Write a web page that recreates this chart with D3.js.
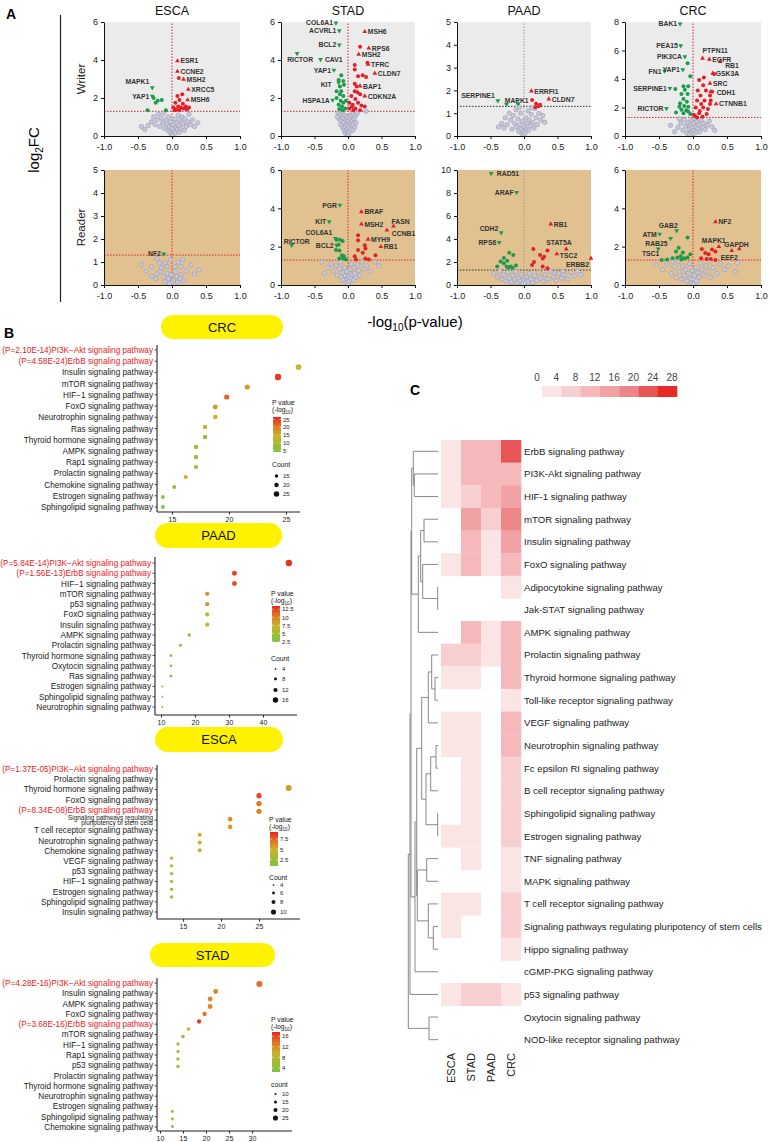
<!DOCTYPE html>
<html><head><meta charset="utf-8">
<script src="https://cdn.jsdelivr.net/npm/d3@7"></script>
<style>body{margin:0;background:#fff}svg{display:block;font-family:"Liberation Sans",Arial,Helvetica,sans-serif}</style>
</head><body><svg id="c" width="770" height="1142"></svg>
<script>
// ================= DATA =================
const cancers = ["ESCA","STAD","PAAD","CRC"];
const rowsA = ["Writer","Reader"];
const writerYMax = [6,6,5,8], writerYStep = [2,2,1,2];
const readerYMax = [5,6,10,6], readerYStep = [1,2,2,2];
const xTicksA = [-1,-0.5,0,0.5,1];

const escaWgray = [[-0.35,0.55],[-0.30,0.75],[-0.27,1.0],[-0.25,0.6],[-0.22,0.85],[-0.20,1.15],[-0.18,0.5],[-0.16,0.95],[-0.14,0.7],[-0.12,1.2],[-0.11,0.4],[-0.09,0.85],[-0.08,0.6],[-0.06,0.3],[-0.05,1.0],[-0.04,0.5],[-0.03,0.2],[-0.02,0.75],[-0.01,0.1],[0.0,0.4],[0.01,0.05],[0.02,0.6],[0.03,0.25],[0.04,0.9],[0.05,0.15],[0.06,0.45],[0.07,0.7],[0.08,0.35],[0.09,1.1],[0.10,0.55],[0.11,0.2],[0.12,0.85],[0.13,0.4],[0.15,1.0],[0.16,0.65],[0.18,0.3],[0.19,0.9],[0.21,0.5],[0.23,0.75],[0.25,1.15],[0.27,0.6],[0.30,0.85],[0.33,0.5],[-0.40,0.35],[-0.45,0.5],[0.38,0.7]];
const escaWdown = [[-0.27,2.0],[-0.21,1.85],[-0.15,1.9],[-0.36,1.35],[-0.09,1.35],[-0.24,1.75]];
const escaWup = [[0.10,3.05],[0.08,2.1],[0.15,2.2],[0.11,1.9],[0.05,1.75],[0.16,1.7],[0.09,1.55],[0.02,1.5],[0.13,1.5],[0.20,1.55],[0.25,1.5],[0.06,1.4],[0.17,1.45],[0.11,1.35],[0.04,1.35],[0.22,1.4]];
const escaWlab = [["ESR1",0.08,3.95],["CCNE2",0.08,3.4],["MSH2",0.17,2.98],["XRCC5",0.24,2.45],["MSH6",0.23,1.9],["MAPK1",-0.29,2.54],["YAP1",-0.29,2.1]];

const stadWgray = [[-0.15,1.2],[-0.13,0.9],[-0.12,1.1],[-0.11,0.6],[-0.10,0.8],[-0.09,1.25],[-0.08,0.45],[-0.07,0.95],[-0.06,0.3],[-0.06,0.7],[-0.05,1.1],[-0.04,0.5],[-0.04,0.15],[-0.03,0.85],[-0.02,0.35],[-0.02,1.0],[-0.01,0.1],[-0.01,0.6],[0.0,0.25],[0.0,0.8],[0.01,0.05],[0.01,0.45],[0.02,0.95],[0.02,0.2],[0.03,0.65],[0.04,0.35],[0.04,1.1],[0.05,0.55],[0.06,0.8],[0.07,0.3],[0.07,1.2],[0.08,0.6],[0.09,0.9],[0.10,0.45],[0.11,1.05],[0.12,0.7],[0.14,1.2],[-0.16,1.0],[0.27,1.3]];
const stadWdown = [[-0.10,3.2],[-0.14,2.95],[-0.07,2.9],[-0.12,2.6],[-0.17,2.35],[-0.10,2.35],[-0.12,2.2],[-0.07,2.1],[-0.17,2.0],[-0.11,1.85],[-0.07,1.75],[-0.14,1.65],[-0.09,1.55],[-0.04,1.45],[-0.13,1.42],[-0.08,1.35],[-0.06,2.7],[-0.03,1.85]];
const stadWup = [[0.18,4.7],[0.10,3.74],[0.10,3.5],[0.29,3.85],[0.15,3.15],[0.22,3.2],[0.27,3.1],[0.10,2.75],[0.13,2.6],[0.10,2.35],[0.18,2.2],[0.05,2.1],[0.11,1.95],[0.02,1.75],[0.15,1.75],[0.07,1.65],[0.20,1.6],[0.02,1.45],[0.11,1.45],[0.25,1.55],[0.08,1.35],[0.18,1.35],[0.14,2.3],[0.06,1.55]];
const stadWlab = [["COL6A1",-0.18,5.95],["ACVRL1",-0.13,5.54],["BCL2",-0.13,4.79],["RICTOR",-0.76,4.35],["CAV1",-0.41,4.03],["YAP1",-0.21,3.47],["KIT",-0.14,2.8],["HSPA1A",-0.23,1.89],["MSH6",0.25,5.49],["RPS6",0.31,4.62],["MSH2",0.16,4.3],["TFRC",0.30,3.77],["CLDN7",0.40,3.3],["BAP1",0.18,2.63],["CDKN2A",0.25,2.1]];

const paadWgray = [[-0.38,0.4],[-0.33,0.55],[-0.30,0.35],[-0.28,0.8],[-0.25,0.5],[-0.22,1.0],[-0.20,0.7],[-0.18,0.3],[-0.16,0.9],[-0.14,0.55],[-0.12,1.15],[-0.11,0.4],[-0.09,0.75],[-0.08,0.2],[-0.06,0.5],[-0.05,1.0],[-0.04,0.3],[-0.03,0.1],[-0.02,0.65],[-0.01,0.2],[0.0,0.05],[0.01,0.4],[0.02,0.15],[0.03,0.8],[0.04,0.3],[0.05,0.55],[0.06,1.1],[0.07,0.25],[0.08,0.7],[0.10,0.45],[0.11,0.95],[0.13,0.6],[0.15,0.35],[0.16,1.2],[0.18,0.8],[0.20,0.5],[0.22,1.0],[0.25,0.7],[0.28,0.9],[0.31,0.6],[0.12,1.25],[-0.07,1.25]];
const paadWdown = [[-0.09,1.43]];
const paadWup = [[0.12,1.58],[0.18,1.41],[0.22,1.3],[0.17,1.26],[0.24,1.37]];
const paadWlab = [["SERPINE1",-0.39,1.55],["MAPK1",-0.26,1.39],["ERRFI1",0.11,1.97],["CLDN7",0.37,1.62]];

const crcWgray = [[-0.27,0.3],[-0.22,0.6],[-0.18,0.9],[-0.15,0.4],[-0.13,1.15],[-0.11,0.7],[-0.09,0.2],[-0.08,0.95],[-0.06,0.5],[-0.05,0.1],[-0.04,0.75],[-0.03,1.1],[-0.02,0.35],[-0.01,0.6],[0.0,0.15],[0.01,0.9],[0.02,0.4],[0.03,1.2],[0.04,0.65],[0.05,0.25],[0.06,1.0],[0.07,0.5],[0.09,0.8],[0.10,0.3],[0.12,1.1],[0.14,0.6],[0.16,0.9],[0.18,0.45],[0.21,0.75],[0.24,1.05],[0.28,0.65],[0.32,0.4],[-0.33,0.75],[-0.20,1.2]];
const crcWdown = [[-0.08,5.1],[-0.04,4.2],[-0.14,3.5],[-0.07,3.5],[-0.26,3.3],[-0.12,3.25],[-0.17,2.95],[-0.08,2.95],[-0.14,2.6],[-0.09,2.4],[-0.19,2.3],[-0.13,2.1],[-0.07,2.05],[-0.17,1.85],[-0.10,1.8],[-0.25,1.65],[-0.14,1.6],[-0.07,1.72],[-0.04,1.55],[-0.20,2.05]];
const crcWup = [[0.09,3.93],[0.15,3.56],[0.07,3.2],[0.19,3.2],[0.11,2.85],[0.25,2.85],[0.06,2.5],[0.17,2.5],[0.12,2.25],[0.25,2.25],[0.04,2.0],[0.15,2.0],[0.22,1.9],[0.09,1.6],[0.01,1.5],[0.14,1.35],[0.06,1.3],[0.20,1.55],[0.31,4.35],[0.26,2.5],[0.16,4.1],[0.28,3.1],[0.10,1.75],[0.03,1.4]];
const crcWlab = [["BAK1",-0.19,7.86],["PEA15",-0.18,6.34],["PIK3CA",-0.12,5.57],["YAP1",-0.15,4.65],["FN1",-0.42,4.56],["SERPINE1",-0.34,3.35],["RICTOR",-0.39,1.94],["PTPN11",0.14,5.45],["EGFR",0.24,5.38],["RB1",0.40,5.22],["GSK3A",0.29,4.4],["SRC",0.25,3.7],["CDH1",0.26,3.11],["CTNNB1",0.34,2.25]];

const escaRgray = [[-0.45,0.9],[-0.3,0.8],[-0.22,1.15],[-0.18,0.95],[-0.1,0.97],[-0.07,0.8],[-0.02,1.1],[0.09,1.0],[0.13,0.8],[0.28,0.87],[0.40,0.67],[0.21,0.6],[-0.3,0.38],[-0.22,0.48],[-0.12,0.35],[-0.05,0.28],[0.02,0.2],[0.07,0.38],[0.13,0.45],[-0.17,0.6],[-0.07,0.5],[-0.01,0.45],[0.05,0.58],[0.12,0.28],[0.0,0.1],[-0.1,0.15],[-0.24,0.27],[0.18,0.2],[-0.38,0.6],[0.33,0.48],[-0.15,0.75],[0.04,0.8],[0.16,1.1],[-0.04,0.05],[0.08,0.12]];
const escaRdown = [];
const escaRup = [];
const escaRlab = [["NF2",-0.12,1.35]];

const stadRgray = [[-0.39,1.2],[-0.30,0.9],[-0.25,1.1],[-0.22,0.7],[-0.18,1.0],[-0.16,0.5],[-0.13,0.85],[-0.11,1.2],[-0.10,0.4],[-0.08,0.65],[-0.07,0.25],[-0.05,0.9],[-0.04,0.5],[-0.03,0.15],[-0.02,0.7],[-0.01,0.3],[0.0,0.05],[0.01,0.45],[0.02,0.2],[0.03,0.8],[0.04,0.35],[0.05,1.1],[0.06,0.55],[0.08,0.25],[0.09,0.9],[0.10,0.6],[0.12,0.4],[0.14,1.05],[0.16,0.75],[0.18,0.5],[0.21,1.2],[0.24,0.85],[0.28,1.0],[0.33,0.7],[0.40,1.2],[-0.35,0.6],[0.46,1.0]];
const stadRdown = [[-0.12,2.36],[-0.08,2.3],[-0.14,2.1],[-0.18,1.83],[-0.13,1.8],[-0.09,1.55],[-0.06,1.5],[-0.13,1.38],[-0.07,1.38],[-0.03,1.33],[-0.17,2.36]];
const stadRup = [[0.15,2.6],[0.15,2.34],[0.25,2.08],[0.26,1.9],[0.15,1.82],[0.22,1.68],[0.10,1.5],[0.26,1.38],[0.31,1.33],[0.41,1.55],[0.12,1.33]];
const stadRlab = [["PGR",-0.12,4.17],["KIT",-0.28,3.3],["COL6A1",-0.19,2.43],["RICTOR",-0.84,2.08],["BCL2",-0.17,2.08],["BRAF",0.20,3.82],["MSH2",0.20,3.18],["FASN",0.68,3.07],["CCNB1",0.58,2.86],["MYH9",0.30,2.38],["RB1",0.49,2.0]];

const paadRgray = [[-0.45,1.0],[-0.40,0.7],[-0.36,1.2],[-0.33,0.5],[-0.30,0.9],[-0.27,0.35],[-0.24,1.1],[-0.22,0.6],[-0.19,0.25],[-0.17,0.85],[-0.14,0.45],[-0.12,1.15],[-0.10,0.2],[-0.08,0.6],[-0.06,0.35],[-0.04,0.9],[-0.02,0.1],[0.0,0.4],[0.02,0.2],[0.04,0.7],[0.06,0.3],[0.08,1.0],[0.10,0.5],[0.13,0.2],[0.16,0.8],[0.19,0.4],[0.22,1.1],[0.25,0.6],[0.29,0.3],[0.32,0.9],[0.36,0.5],[0.40,1.2],[0.44,0.7],[0.48,0.4],[0.52,1.0],[0.56,0.6],[0.60,0.9],[0.65,0.5],[0.70,1.1],[0.75,0.8],[0.80,1.2],[0.85,0.9],[0.45,1.05],[0.58,1.2]];
const paadRdown = [[-0.22,2.81],[-0.16,2.6],[-0.30,2.35],[-0.25,2.1],[-0.35,2.05],[-0.40,1.6],[-0.30,1.9],[-0.26,1.6],[-0.20,1.6],[-0.17,1.5],[-0.12,1.7],[-0.23,1.5]];
const paadRup = [[0.14,3.13],[0.35,3.0],[0.24,2.6],[0.30,2.45],[0.28,2.3],[0.15,2.0],[0.12,1.75],[0.28,1.6],[0.35,1.45]];
const paadRlab = [["RAD51",-0.49,9.7],["ARAF",-0.11,8.06],["CDH2",-0.34,4.55],["RPS6",-0.37,3.71],["RB1",0.40,5.3],["STAT5A",0.63,3.13],["TSC2",0.49,2.7],["ERBB2",1.0,2.32]];

const crcRgray = [[-0.54,1.05],[-0.45,0.8],[-0.38,1.1],[-0.32,0.6],[-0.28,0.95],[-0.25,0.4],[-0.22,1.2],[-0.20,0.7],[-0.17,0.3],[-0.15,1.0],[-0.13,0.5],[-0.11,0.8],[-0.09,0.2],[-0.07,0.6],[-0.05,1.1],[-0.04,0.35],[-0.02,0.1],[-0.01,0.75],[0.0,0.3],[0.01,0.05],[0.02,0.5],[0.04,0.9],[0.05,0.2],[0.07,0.65],[0.09,0.4],[0.11,1.15],[0.13,0.8],[0.16,0.5],[0.19,1.0],[0.22,0.7],[0.26,0.4],[0.30,0.9],[0.35,0.6],[0.40,1.1],[0.46,0.8],[0.52,1.0],[0.62,0.7],[0.65,1.15],[-0.30,1.25],[0.25,1.25]];
const crcRdown = [[-0.08,2.48],[-0.25,1.75],[-0.21,1.95],[-0.15,1.7],[-0.30,1.4],[-0.23,1.43],[-0.18,1.5],[-0.13,1.4],[-0.08,1.43],[-0.38,1.33],[-0.46,1.3],[-0.04,1.6],[-0.17,1.33]];
const crcRup = [[0.13,1.88],[0.18,1.67],[0.23,1.6],[0.28,1.85],[0.33,1.75],[0.12,1.4],[0.26,1.36],[0.20,1.36],[0.33,1.3]];
const crcRlab = [["GAB2",-0.24,2.83],["ATM",-0.49,2.66],["RAB25",-0.33,2.43],["TSC1",-0.51,1.88],["NF2",0.33,3.3],["MAPK1",0.38,2.0],["GAPDH",0.68,1.89],["EEF2",0.57,1.79]];

// Panel B: enrichment dot plots
const crcPathways = ["(P=2.10E-14)PI3K\u2212Akt signaling pathway","(P=4.58E-24)ErbB signaling pathway","Insulin signaling pathway","mTOR signaling pathway","HIF\u22121 signaling pathway","FoxO signaling pathway","Neurotrophin signaling pathway","Ras signaling pathway","Thyroid hormone signaling pathway","AMPK signaling pathway","Rap1 signaling pathway","Prolactin signaling pathway","Chemokine signaling pathway","Estrogen signaling pathway","Sphingolipid signaling pathway"];
const crcX = [26.1,24.3,21.6,19.8,18.8,18.8,17.9,17.9,17.1,17.1,17.1,16.2,15.2,14.2,14.2];
const crcP = [13,25,17,22,17,14,12,7,10,9,7.5,14,7,5,4];
const crcCount = [22,25,20,20,19,18,18,17,17,17,16,16,15,14,14];
const crcPTicks = [5,10,15,20,25], crcCountTicks = [15,20,25], crcXTicks = [15,20,25];

const paadPathways = ["(P=5.84E-14)PI3K\u2212Akt signaling pathway","(P=1.56E-13)ErbB signaling pathway","HIF\u22121 signaling pathway","mTOR signaling pathway","p53 signaling pathway","FoxO signaling pathway","Insulin signaling pathway","AMPK signaling pathway","Prolactin signaling pathway","Thyroid hormone signaling pathway","Oxytocin signaling pathway","Ras signaling pathway","Estrogen signaling pathway","Sphingolipid signaling pathway","Neurotrophin signaling pathway"];
const paadX = [47.6,31.6,31.6,23.6,23.6,23.6,23.6,18.3,15.7,12.9,12.9,12.9,10.4,10.4,10.4];
const paadP = [13,12.5,12,9.5,9,7,6.8,4.5,3.5,2.8,2.8,2.8,2.2,2.2,2.2];
const paadCount = [16,12,12,10,10,10,10,8,7,6,6,6,4,4,4];
const paadPTicks = [2.5,5.0,7.5,10.0,12.5], paadCountTicks = [4,8,12,16], paadXTicks = [10,20,30,40];

const escaPathways = ["(P=1.37E-05)PI3K\u2212Akt signaling pathway","Prolactin signaling pathway","Thyroid hormone signaling pathway","FoxO signaling pathway","(P=8.34E-08)ErbB signaling pathway","Signaling pathways regulating|pluripotency of stem cells","T cell receptor signaling pathway","Neurotrophin signaling pathway","Chemokine signaling pathway","VEGF signaling pathway","p53 signaling pathway","HIF\u22121 signaling pathway","Estrogen signaling pathway","Sphingolipid signaling pathway","Insulin signaling pathway"];
const escaX = [28.9,25,25,25,21.2,21.2,17.2,17.2,17.2,13.5,13.5,13.5,13.5,13.5,13.5];
const escaP = [5.5,8.3,7.0,6.5,6.0,5.6,5.2,4.8,4.0,5.0,4.2,3.8,3.2,2.8,2.5];
const escaCount = [10,9,9,9,8,8,7,7,7,6,6,6,6,6,6];
const escaPTicks = [2.5,5.0,7.5], escaCountTicks = [4,6,8,10], escaXTicks = [15,20,25];

const stadPathways = ["(P=4.28E-16)PI3K\u2212Akt signaling pathway","Insulin signaling pathway","AMPK signaling pathway","FoxO signaling pathway","(P=3.68E-16)ErbB signaling pathway","mTOR signaling pathway","HIF\u22121 signaling pathway","Rap1 signaling pathway","p53 signaling pathway","Prolactin signaling pathway","Thyroid hormone signaling pathway","Neurotrophin signaling pathway","Estrogen signaling pathway","Sphingolipid signaling pathway","Chemokine signaling pathway"];
const stadX = [31.6,22.1,20.9,20.9,19.7,18.5,16.2,15,13.9,13.9,13.9,13.9,12.7,12.7,12.7];
const stadP = [14,12.5,12.5,12.5,14,16.5,9.5,5,9,8.5,6.5,6,4.5,4.2,4];
const stadCount = [25,20,20,20,18,18,15,15,14,14,14,14,12,12,12];
const stadPTicks = [4,8,12,16], stadCountTicks = [10,15,20,25], stadXTicks = [10,15,20,25,30];

// Panel C: heatmap
const hmColumns = ["ESCA","STAD","PAAD","CRC"];
const hmPathways = ["ErbB signaling pathway","PI3K-Akt signaling pathway","HIF-1 signaling pathway","mTOR signaling pathway","Insulin signaling pathway","FoxO signaling pathway","Adipocytokine signaling pathway","Jak-STAT signaling pathway","AMPK signaling pathway","Prolactin signaling pathway","Thyroid hormone signaling pathway","Toll-like receptor signaling pathway","VEGF signaling pathway","Neurotrophin signaling pathway","Fc epsilon RI signaling pathway","B cell receptor signaling pathway","Sphingolipid signaling pathway","Estrogen signaling pathway","TNF signaling pathway","MAPK signaling pathway","T cell receptor signaling pathway","Signaling pathways regulating pluripotency of stem cells","Hippo signaling pathway","cGMP-PKG signaling pathway","p53 signaling pathway","Oxytocin signaling pathway","NOD-like receptor signaling pathway"];
const hmESCA = [2,2,2,null,null,2,null,null,null,6,2,null,2,2,null,null,null,2,null,null,2,2,null,null,2,null,null];
const hmSTAD = [10,10,6,14,10,10,null,null,10,6,2,null,2,2,2,2,2,2,2,null,2,null,null,null,6,null,null];
const hmPAAD = [10,10,10,6,2,2,null,null,2,2,null,null,null,null,null,null,null,null,null,null,null,null,null,null,6,null,null];
const hmCRC = [22,10,14,18,14,10,2,null,10,10,10,2,10,10,6,6,6,6,2,2,6,6,2,null,2,null,null];
const hmLegendTicks = [0,4,8,12,16,20,24,28];
// dendrogram: [height, left, right], leaves = row index
const hmTree = [29.7,[28,[27,[26.3,[24.7,0,[23.7,1,2]],[19.7,[17.3,[14,3,4],[15.3,5,[0.3,6,7]]],8]],[23,[21.3,[16.3,[9.7,[6.3,9,[3,10,11]],12],[12,[7.3,[2,13,14],15],[0.3,16,17]]],[20.7,[11.3,18,19],[9.7,20,[4.7,21,22]]]],23]],24],[9,25,26]];

// ================= LAYOUT (label nudges, px) =================
const labelNudge = {
  "ESCA0:MAPK1":[0,-6],
  "STAD0:RICTOR":[19,6],"STAD0:CAV1":[25,0],"STAD0:KIT":[-4,2],
  "PAAD0:SERPINE1":[0,-5],"PAAD0:MAPK1":[25,-4],
  "CRC0:PTPN11":[-3,-8],"CRC0:RB1":[2,4],"CRC0:CDH1":[3,1],
  "STAD1:RICTOR":[21,-4],"STAD1:COL6A1":[0,-6],"STAD1:FASN":[-5,-5],"STAD1:CCNB1":[2,3],
  "PAAD1:RAD51":[31,0],"PAAD1:CDH2":[0,-4],"PAAD1:STAT5A":[-23,-7],"PAAD1:TSC2":[0,2],"PAAD1:ERBB2":[-28,6],
  "CRC1:GAB2":[4,-5],"CRC1:RAB25":[0,5],"CRC1:TSC1":[4,5],"CRC1:MAPK1":[-20,-6],"CRC1:GAPDH":[-18,-4],"CRC1:EEF2":[-14,7]
};

// ================= DRAWING =================
const svg = d3.select("#c");
const FF = '"Liberation Sans",Arial,Helvetica,sans-serif';

// ---------- Panel A ----------
svg.append("text").attr("x",6).attr("y",19).attr("font-size",14).attr("font-weight","bold").text("A");
svg.append("line").attr("x1",60.5).attr("x2",60.5).attr("y1",15).attr("y2",302).attr("stroke","#222").attr("stroke-width",1.2);
svg.append("text").attr("transform","translate(39,150) rotate(-90)").attr("text-anchor","middle").attr("font-size",15)
  .call(t=>{t.append("tspan").text("log");t.append("tspan").attr("font-size",10).attr("dy",4).text("2");t.append("tspan").attr("dy",-4).text("FC");});
svg.append("text").attr("x",415).attr("y",327).attr("text-anchor","middle").attr("font-size",15)
  .call(t=>{t.append("tspan").text("-log");t.append("tspan").attr("font-size",10).attr("dy",4).text("10");t.append("tspan").attr("dy",-4).text("(p-value)");});

const colX = [[104,240],[281,415],[457,591],[625,761]];
const rowY = [[22,136],[170,285]];
rowsA.forEach((r,i)=>{
  const cy=(rowY[i][0]+rowY[i][1])/2;
  svg.append("text").attr("transform",`translate(85,${cy}) rotate(-90)`).attr("text-anchor","middle").attr("font-size",11.5).attr("fill","#222").text(r);
});
cancers.forEach((c,i)=>{
  svg.append("text").attr("x",(colX[i][0]+colX[i][1])/2).attr("y",15).attr("text-anchor","middle").attr("font-size",12.5).attr("fill","#111").text(c);
});

const volcanoData = [
  [escaWgray,escaWdown,escaWup,escaWlab],[stadWgray,stadWdown,stadWup,stadWlab],[paadWgray,paadWdown,paadWup,paadWlab],[crcWgray,crcWdown,crcWup,crcWlab],
  [escaRgray,escaRdown,escaRup,escaRlab],[stadRgray,stadRdown,stadRup,stadRlab],[paadRgray,paadRdown,paadRup,paadRlab],[crcRgray,crcRdown,crcRup,crcRlab]
];
const GREEN="#1a9c48", RED="#e3202a";
function volcano(ci,ri){
  const [gray,down,up,lab]=volcanoData[ri*4+ci];
  const ymax = ri?readerYMax[ci]:writerYMax[ci], ystep = ri?readerYStep[ci]:writerYStep[ci];
  const [x0,x1]=colX[ci],[y0,y1]=rowY[ri];
  const x=d3.scaleLinear().domain([-1,1]).range([x0,x1]);
  const y=d3.scaleLinear().domain([0,ymax]).range([y1,y0]);
  const g=svg.append("g");
  g.append("rect").attr("x",x0).attr("y",y0).attr("width",x1-x0).attr("height",y1-y0).attr("fill",ri?"#e0c18f":"#ebebeb");
  const dark = ci===2;
  g.append("line").attr("x1",x0).attr("x2",x1).attr("y1",y(1.3)).attr("y2",y(1.3)).attr("stroke",dark?"#333":"#d8262c").attr("stroke-width",1).attr("stroke-dasharray","1.5,1.5");
  g.append("line").attr("x1",x(0)).attr("x2",x(0)).attr("y1",y1).attr("y2",y0).attr("stroke",dark?"#9a9a9a":"#d8262c").attr("stroke-width",1).attr("stroke-dasharray","1.5,1.5");
  g.selectAll(null).data(gray).join("circle").attr("cx",d=>x(d[0])).attr("cy",d=>y(d[1])).attr("r",2.2).attr("fill","#c8c8d8").attr("stroke","#9b9bb5").attr("stroke-width",0.6);
  g.selectAll(null).data(down).join("circle").attr("cx",d=>x(d[0])).attr("cy",d=>y(d[1])).attr("r",2).attr("fill",GREEN);
  g.selectAll(null).data(up).join("circle").attr("cx",d=>x(d[0])).attr("cy",d=>y(d[1])).attr("r",2).attr("fill",RED);
  const tri=d3.symbol().type(d3.symbolTriangle).size(10);
  g.selectAll(null).data(lab).join("path").attr("d",tri)
    .attr("transform",d=>`translate(${x(d[1])},${y(d[2])})${d[1]<0?" rotate(180)":""}`).attr("fill",d=>d[1]<0?GREEN:RED);
  const key=d=>cancers[ci]+ri+":"+d[0];
  const nd=d=>labelNudge[key(d)]||[0,0];
  g.selectAll(null).data(lab).join("text").attr("x",d=>(d[1]<0?x(d[1])-3:x(d[1])+3)+nd(d)[0]).attr("y",d=>y(d[2])+2.5+nd(d)[1])
    .attr("text-anchor",d=>d[1]<0?"end":"start").attr("font-size",6.8).attr("font-weight","bold").attr("fill","#333").text(d=>d[0]);
  const ax=g.append("g").attr("transform",`translate(0,${y1})`).call(d3.axisBottom(x).tickValues(xTicksA).tickFormat(v=>v.toFixed(1)).tickSize(3).tickSizeOuter(0));
  const ay=g.append("g").attr("transform",`translate(${x0},0)`).call(d3.axisLeft(y).tickValues(d3.range(0,ymax+0.001,ystep)).tickFormat(d3.format("d")).tickSize(3).tickSizeOuter(0));
  [ax,ay].forEach(a=>{a.selectAll("text").attr("font-size",9).attr("fill","#222").attr("font-family",FF);a.select(".domain").attr("stroke","#111");a.selectAll(".tick line").attr("stroke","#111");});
  ax.selectAll("text").attr("dy","0.85em");
}
for(let r=0;r<2;r++)for(let c=0;c<4;c++)volcano(c,r);

// ---------- Panel B ----------
svg.append("text").attr("x",4).attr("y",338).attr("font-size",14).attr("font-weight","bold").text("B");
const colStops=[[0,"#7cc243"],[0.45,"#c8b42c"],[0.75,"#e27325"],[1,"#ea2320"]];
const colInterp=d3.scaleLinear().domain(colStops.map(d=>d[0])).range(colStops.map(d=>d[1])).clamp(true);
const bPanels=[
  {name:"CRC",labels:crcPathways,xv:crcX,pv:crcP,cnt:crcCount,pt:crcPTicks,ct:crcCountTicks,xt:crcXTicks,
   banner:[161,315,122,24],axX:157,axTop:345,axBot:512,axRight:300,rowTop:350,rowBot:507,dotTop:367,dotBot:507,
   xs:[[15,25],[172,286]],pDom:[4,26.5],barX:273,barTop:417,barBot:452,pTitleY:405,cTitleY:467,cY:[476,485,494],rR:[[15,25],[2,3.2]],cTitle:"Count"},
  {name:"PAAD",labels:paadPathways,xv:paadX,pv:paadP,cnt:paadCount,pt:paadPTicks,ct:paadCountTicks,xt:paadXTicks,
   banner:[155,523,127,25],axX:155,axTop:557,axBot:715,axRight:297,rowTop:563,rowBot:707,dotTop:563,dotBot:707,
   xs:[[10,40],[161,263]],pDom:[2.4,13.5],barX:272,barTop:606,barBot:642,pTitleY:596,cTitleY:661,cY:[669,679,690,700],rR:[[4,16],[1,3.2]],cTitle:"Count"},
  {name:"ESCA",labels:escaPathways,xv:escaX,pv:escaP,cnt:escaCount,pt:escaPTicks,ct:escaCountTicks,xt:escaXTicks,
   banner:[155,727,128,25],axX:157,axTop:765,axBot:919,axRight:300,rowTop:769,rowBot:912,dotTop:788,dotBot:897,
   xs:[[15,25],[183,259]],pDom:[0.9,9.25],barX:270,barTop:832,barBot:866,pTitleY:822,cTitleY:880,cY:[885,893,902,912],rR:[[4,10],[1,3]],cTitle:"Count"},
  {name:"STAD",labels:stadPathways,xv:stadX,pv:stadP,cnt:stadCount,pt:stadPTicks,ct:stadCountTicks,xt:stadXTicks,
   banner:[150,943,125,24],axX:157,axTop:978,axBot:1131,axRight:292,rowTop:983,rowBot:1127,dotTop:984,dotBot:1126.5,
   dotSlots:[0,1,2,3,4,5,6,7,8,9,10,11,17,18,19],nSlots:20,
   xs:[[15,30],[183,252]],pDom:[2.5,17.6],barX:272,barTop:1032,barBot:1072,pTitleY:1022,cTitleY:1087,cY:[1094,1102,1110,1118],rR:[[10,25],[1.2,3]],cTitle:"count"}
];
bPanels.forEach((p,pi)=>{
  const g=svg.append("g");
  const [bx,by,bw,bh]=p.banner;
  g.append("rect").attr("x",bx).attr("y",by).attr("width",bw).attr("height",bh).attr("rx",bh/2).attr("fill","#fff200");
  g.append("text").attr("x",bx+bw/2).attr("y",by+bh/2+4.5).attr("text-anchor","middle").attr("font-size",13).attr("fill","#111").text(p.name);
  const n=p.labels.length;
  const yl=d3.scalePoint().domain(d3.range(n)).range([p.rowTop,p.rowBot]);
  const ns=p.nSlots||n;
  const yd=d3.scalePoint().domain(d3.range(ns)).range([p.dotTop,p.dotBot]);
  const x=d3.scaleLinear().domain(p.xs[0]).range(p.xs[1]);
  const col=v=>colInterp((v-p.pDom[0])/(p.pDom[1]-p.pDom[0]));
  const rS=d3.scaleLinear().domain(p.rR[0]).range(p.rR[1]);
  g.append("line").attr("x1",p.axX).attr("x2",p.axX).attr("y1",p.axTop).attr("y2",p.axBot).attr("stroke","#222").attr("stroke-width",1.1);
  g.append("line").attr("x1",p.axX).attr("x2",p.axRight).attr("y1",p.axBot).attr("y2",p.axBot).attr("stroke","#222").attr("stroke-width",1.1);
  g.selectAll(null).data(d3.range(n)).join("line").attr("x1",p.axX-2.5).attr("x2",p.axX).attr("y1",i=>yl(i)).attr("y2",i=>yl(i)).attr("stroke","#222").attr("stroke-width",0.8);
  const xa=g.append("g").attr("transform",`translate(0,${p.axBot})`).call(d3.axisBottom(x).tickValues(p.xt).tickSize(2.5).tickSizeOuter(0));
  xa.select(".domain").remove();
  xa.selectAll("text").attr("font-size",7).attr("fill","#222").attr("font-family",FF).attr("dy","0.6em");
  xa.selectAll(".tick line").attr("stroke","#222");
  p.labels.forEach((lab,i)=>{
    const red=lab.startsWith("(P=");
    if(lab.includes("|")){
      const parts=lab.split("|");
      g.append("text").attr("x",p.axX-4).attr("y",yl(i)-0.5).attr("text-anchor","end").attr("font-size",6.4).attr("fill","#222").text(parts[0]);
      g.append("text").attr("x",p.axX-4).attr("y",yl(i)+5.3).attr("text-anchor","end").attr("font-size",6.4).attr("fill","#222").text(parts[1]);
    } else {
      g.append("text").attr("x",p.axX-4).attr("y",yl(i)+3).attr("text-anchor","end").attr("font-size",8.2).attr("fill",red?"#e8211d":"#222").text(lab);
    }
  });
  g.selectAll(null).data(d3.range(n)).join("circle")
    .attr("cx",i=>x(p.xv[i])).attr("cy",i=>yd(p.dotSlots?p.dotSlots[i]:i)).attr("r",i=>rS(p.cnt[i])).attr("fill",i=>col(p.pv[i]));
  const gid="grad"+pi;
  const grad=svg.append("defs").append("linearGradient").attr("id",gid).attr("x1",0).attr("x2",0).attr("y1",1).attr("y2",0);
  colStops.forEach(s=>grad.append("stop").attr("offset",s[0]).attr("stop-color",s[1]));
  g.append("text").attr("x",p.barX-1).attr("y",p.pTitleY).attr("font-size",6.8).attr("fill","#111").text("P value");
  g.append("text").attr("x",p.barX-1).attr("y",p.pTitleY+7).attr("font-size",6.8).attr("fill","#111")
    .call(t=>{t.append("tspan").text("(-log");t.append("tspan").attr("font-size",4.5).attr("dy",1.5).text("10");t.append("tspan").attr("dy",-1.5).text(")");});
  g.append("rect").attr("x",p.barX).attr("y",p.barTop).attr("width",8).attr("height",p.barBot-p.barTop).attr("fill",`url(#${gid})`);
  const ly=d3.scaleLinear().domain(p.pDom).range([p.barBot,p.barTop]);
  p.pt.forEach(v=>{
    g.append("line").attr("x1",p.barX).attr("x2",p.barX+1.5).attr("y1",ly(v)).attr("y2",ly(v)).attr("stroke","#fff").attr("stroke-width",0.6);
    g.append("line").attr("x1",p.barX+6.5).attr("x2",p.barX+8).attr("y1",ly(v)).attr("y2",ly(v)).attr("stroke","#fff").attr("stroke-width",0.6);
    g.append("text").attr("x",p.barX+10).attr("y",ly(v)+2.2).attr("font-size",6).attr("fill","#222").text(Number.isInteger(v)?v:v.toFixed(1));
  });
  g.append("text").attr("x",p.barX-1).attr("y",p.cTitleY).attr("font-size",6.8).attr("fill","#111").text(p.cTitle);
  p.ct.forEach((v,k)=>{
    g.append("circle").attr("cx",p.barX+3.5).attr("cy",p.cY[k]).attr("r",rS(v)*0.85).attr("fill","#111");
    g.append("text").attr("x",p.barX+10).attr("y",p.cY[k]+2.2).attr("font-size",6).attr("fill","#222").text(v);
  });
});

// ---------- Panel C ----------
svg.append("text").attr("x",410).attr("y",395).attr("font-size",14).attr("font-weight","bold").text("C");
const binColors=["#fbe4e4","#f8cfd1","#f5b8bb","#f1a2a4","#ed8688","#e85556","#e52a24"];
const hmColor=d3.scaleThreshold().domain([4,8,12,16,20,24]).range(binColors);
const lx=d3.scaleLinear().domain([0,28]).range([542,677]);
binColors.forEach((c,i)=>svg.append("rect").attr("x",lx(i*4)).attr("y",386).attr("width",lx(4)-lx(0)+0.3).attr("height",11).attr("fill",c));
hmLegendTicks.forEach(v=>svg.append("text").attr("x",lx(v)-5).attr("y",381).attr("text-anchor","middle").attr("font-size",10).attr("fill","#444").text(v));

const hmCols=[hmESCA,hmSTAD,hmPAAD,hmCRC];
const hx=d3.scaleBand().domain(hmColumns).range([441,521]);
const hy=d3.scaleBand().domain(d3.range(hmPathways.length)).range([440,1051]);
hmCols.forEach((arr,ci)=>{
  arr.forEach((v,ri)=>{
    if(v==null)return;
    svg.append("rect").attr("x",hx(hmColumns[ci])).attr("y",hy(ri)).attr("width",hx.bandwidth()+0.3).attr("height",hy.bandwidth()+0.3).attr("fill",hmColor(v));
  });
});
hmPathways.forEach((p,i)=>svg.append("text").attr("x",524).attr("y",hy(i)+hy.bandwidth()/2+3.5).attr("font-size",9.6).attr("fill","#222").text(p));
hmColumns.forEach(c=>svg.append("text").attr("transform",`translate(${hx(c)+hx.bandwidth()/2+4},1053) rotate(-90)`).attr("text-anchor","end").attr("font-size",11).attr("fill","#222").text(c));
const hxs=d3.scaleLinear().domain([0,30]).range([438,408]);
function lay(node){
  if(typeof node==="number")return {h:0,y:hy(node)+hy.bandwidth()/2};
  const a=lay(node[1]),b=lay(node[2]);
  return {h:node[0],y:(a.y+b.y)/2,kids:[a,b]};
}
const dg=svg.append("g").attr("fill","none").attr("stroke","#7a7a7a").attr("stroke-width",0.9);
function drawT(n){
  if(!n.kids)return;
  const X=hxs(n.h);
  dg.append("path").attr("d",`M${X},${n.kids[0].y}V${n.kids[1].y}`);
  n.kids.forEach(k=>{dg.append("path").attr("d",`M${X},${k.y}H${hxs(k.h)}`);drawT(k);});
}
drawT(lay(hmTree));
</script></body></html>
